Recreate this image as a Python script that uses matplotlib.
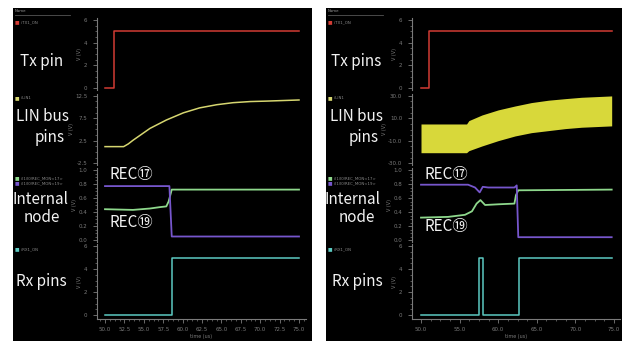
import numpy as np
import matplotlib
matplotlib.use('Agg')
import matplotlib.pyplot as plt
from matplotlib.ticker import AutoMinorLocator, FormatStrFormatter

W, H = 625, 342

# ---- data (time in us, values in V) ----
# left panel
tx_t_l = [50.0, 51.2, 51.2, 75.0]
tx_v_l = [0, 0, 5, 5]
lin_t_l = [50.0, 52.4, 53.0, 53.6, 55.8, 57.9, 60.1, 62.2, 64.4, 66.5, 68.7, 70.8, 75.0]
lin_v_l = [1.2, 1.2, 1.8, 2.6, 5.25, 7.1, 8.7, 9.8, 10.5, 10.95, 11.2, 11.3, 11.55]
rec17_t_l = [50.0, 58.3, 58.6, 75.0]
rec17_v_l = [0.77, 0.77, 0.05, 0.05]
rec19_t_l = [50.0, 53.6, 55.8, 57.1, 57.9, 58.2, 58.6, 75.0]
rec19_v_l = [0.44, 0.43, 0.45, 0.47, 0.48, 0.55, 0.72, 0.72]
rx_t_l = [50.0, 58.6, 58.6, 75.0]
rx_v_l = [0, 0, 5, 5]
xticks_l = np.arange(50.0, 75.1, 2.5)

# right panel
tx_t_r = [50.0, 51.0, 51.0, 74.7]
tx_v_r = [0, 0, 5, 5]
band_t = [50.0, 55.9, 56.2, 57.9, 60.0, 62.2, 64.3, 66.5, 68.7, 70.8, 74.7]
band_hi = [4.9, 4.9, 7.9, 12.9, 17.4, 20.9, 23.9, 26.0, 27.4, 28.6, 29.8]
band_lo = [-20.6, -20.6, -18.8, -14.6, -9.9, -5.7, -2.8, -1.0, 0.8, 2.0, 3.2]
rec17_t_r = [50.0, 56.1, 57.0, 57.6, 58.0, 58.7, 62.1, 62.4, 62.6, 74.7]
rec17_v_r = [0.79, 0.79, 0.75, 0.68, 0.76, 0.75, 0.75, 0.78, 0.04, 0.04]
rec19_t_r = [50.0, 53.5, 55.7, 56.6, 57.2, 57.7, 58.3, 60.0, 62.1, 62.3, 62.6, 74.7]
rec19_v_r = [0.32, 0.33, 0.36, 0.41, 0.52, 0.57, 0.50, 0.51, 0.52, 0.64, 0.71, 0.72]
rx_t_r = [50.0, 57.5, 57.5, 58.0, 58.0, 62.7, 62.7, 74.7]
rx_v_r = [0, 0, 5, 5, 0, 0, 5, 5]
xticks_r = np.arange(50.0, 75.1, 5.0)

RED, LINC, BAND = '#d23c34', '#d6d670', '#d8d83a'
GREEN, PURPLE, CYAN = '#8ed88c', '#7656cc', '#5ccac2'
GREY = '#7a7a7a'
BIG = ['Noto Sans CJK JP', 'DejaVu Sans']

fig = plt.figure(figsize=(W / 100, H / 100), dpi=100, facecolor='white')


def box(x0, y0, x1, y1):
    return [x0 / W, 1 - y1 / H, (x1 - x0) / W, (y1 - y0) / H]


def lims(va, pa, vb, pb, lo_px, hi_px):
    # value per pixel from two anchors, then extend to the axes edges
    k = (va - vb) / (pb - pa)
    return vb - (hi_px - pb) * k, va + (pa - lo_px) * k


def ftext(x, y, s, **kw):
    fig.text(x / W, 1 - y / H, s, **kw)


def style(ax, ylim, xl, yt, fmt, bottom=False):
    ax.set_facecolor('none')
    ax.set_xlim(*xl)
    ax.set_ylim(*ylim)
    for s in ['top', 'right', 'bottom']:
        ax.spines[s].set_visible(False)
    ax.spines['left'].set_color(GREY)
    ax.spines['left'].set_linewidth(0.8)
    ax.set_yticks(yt)
    ax.yaxis.set_major_formatter(FormatStrFormatter(fmt))
    ax.yaxis.set_minor_locator(AutoMinorLocator(4))
    ax.tick_params(axis='y', which='major', colors=GREY, labelsize=4, length=3, width=0.6, pad=4)
    ax.tick_params(axis='y', which='minor', colors=GREY, length=1.5, width=0.5)
    ax.set_ylabel('V (V)', fontsize=3.5, color=GREY, labelpad=1)
    if bottom:
        ax.spines['bottom'].set_visible(True)
        ax.spines['bottom'].set_color(GREY)
        ax.spines['bottom'].set_linewidth(0.8)
        ax.xaxis.set_minor_locator(AutoMinorLocator(4))
        ax.tick_params(axis='x', which='major', colors=GREY, labelsize=4, length=3, width=0.6, pad=3)
        ax.tick_params(axis='x', which='minor', colors=GREY, length=1.5, width=0.5)
        ax.set_xlabel('time (us)', fontsize=3.5, color=GREY, labelpad=1)
    else:
        ax.set_xticks([])


def panel(ox, x50, x75, ax_left, ax_right, d):
    bg = fig.add_axes(box(ox + 13, 8, ox + 312 - (ox > 0) * 3, 341))
    bg.set_facecolor('black')
    bg.set_xticks([]); bg.set_yticks([])
    for s in bg.spines.values():
        s.set_visible(False)
    bg.set_zorder(0)
    xl = lims(75, -x75, 50, -x50, -ax_right, -ax_left)
    xl = (xl[0], xl[1])

    a1 = fig.add_axes(box(ax_left, 18, ax_right, 90)); a1.set_zorder(1)
    a1.plot(d['tx_t'], d['tx_v'], color=RED, lw=1.1)
    style(a1, lims(6, 20, 0, 88, 18, 90), xl, [0, 2, 4, 6], '%d')

    a2 = fig.add_axes(box(ax_left, 94, ax_right, 165)); a2.set_zorder(1)
    if 'band_t' in d:
        a2.fill_between(d['band_t'], d['band_lo'], d['band_hi'], color=BAND, lw=0)
        style(a2, lims(30, 95.7, -30, 163.3, 94, 165), xl, [-30, -10, 10, 30], '%.1f')
    else:
        a2.plot(d['lin_t'], d['lin_v'], color=LINC, lw=1.1)
        style(a2, lims(12.5, 95.7, -2.5, 163.3, 94, 165), xl, [-2.5, 2.5, 7.5, 12.5], '%.1f')

    a3 = fig.add_axes(box(ax_left, 168, ax_right, 242)); a3.set_zorder(1)
    a3.plot(d['r19_t'], d['r19_v'], color=GREEN, lw=1.3)
    a3.plot(d['r17_t'], d['r17_v'], color=PURPLE, lw=1.3)
    style(a3, lims(1.0, 170, 0.0, 240, 168, 242), xl, np.arange(0, 1.01, 0.2), '%.1f')

    a4 = fig.add_axes(box(ax_left, 244, ax_right, 319)); a4.set_zorder(1)
    a4.plot(d['rx_t'], d['rx_v'], color=CYAN, lw=1.1)
    style(a4, lims(6, 246, 0, 315, 244, 319), xl, [0, 2, 4, 6], '%d', bottom=True)
    a4.set_xticks(d['xticks'])
    a4.xaxis.set_major_formatter(FormatStrFormatter('%.1f'))

    # waveform viewer signal list
    lx = ox + 15
    ftext(lx, 11, 'Name', fontsize=2.8, color='#9a9a9a', va='center')
    fig.add_artist(plt.Line2D([lx / W, (lx + 55) / W], [1 - 15 / H, 1 - 15 / H],
                              color='#555555', lw=0.6))
    for y, c, s in [(22, RED, '/TX1_ON'), (98, LINC, '/LIN1'),
                    (178, GREEN, '/I1/I0/REC_MON<17>'), (183, PURPLE, '/I1/I0/REC_MON<19>'),
                    (249, CYAN, '/RX1_ON')]:
        ftext(lx, y, '\u25a0', fontsize=3.5, color=c, va='center')
        ftext(lx + 6, y, s, fontsize=2.8, color='#8a8a8a', va='center')


panel(0, 105, 299, 97, 306,
      dict(tx_t=tx_t_l, tx_v=tx_v_l, lin_t=lin_t_l, lin_v=lin_v_l,
           r17_t=rec17_t_l, r17_v=rec17_v_l, r19_t=rec19_t_l, r19_v=rec19_v_l,
           rx_t=rx_t_l, rx_v=rx_v_l, xticks=xticks_l))
panel(313, 421, 614, 412, 620,
      dict(tx_t=tx_t_r, tx_v=tx_v_r, band_t=band_t, band_lo=band_lo, band_hi=band_hi,
           r17_t=rec17_t_r, r17_v=rec17_v_r, r19_t=rec19_t_r, r19_v=rec19_v_r,
           rx_t=rx_t_r, rx_v=rx_v_r, xticks=xticks_r))

# big annotation labels
kw = dict(fontsize=11, color='#f2f2f2', ha='center', va='center', family=BIG, zorder=5)
for (x, y, s) in [(42, 62, 'Tx pin'), (43, 117, 'LIN bus'), (50, 137, 'pins'),
                  (40, 200, 'Internal'), (42, 218, 'node'), (41, 282, 'Rx pins'),
                  (131, 175, 'REC\u2470'), (131, 223, 'REC\u2472'),
                  (356, 62, 'Tx pins'), (356, 117, 'LIN bus'), (364, 137, 'pins'),
                  (352, 199, 'Internal'), (357, 218, 'node'), (357, 282, 'Rx pins'),
                  (446, 174, 'REC\u2470'), (446, 226, 'REC\u2472')]:
    ftext(x, y, s, **kw)

plt.savefig('out.png', dpi=100, facecolor='white')
